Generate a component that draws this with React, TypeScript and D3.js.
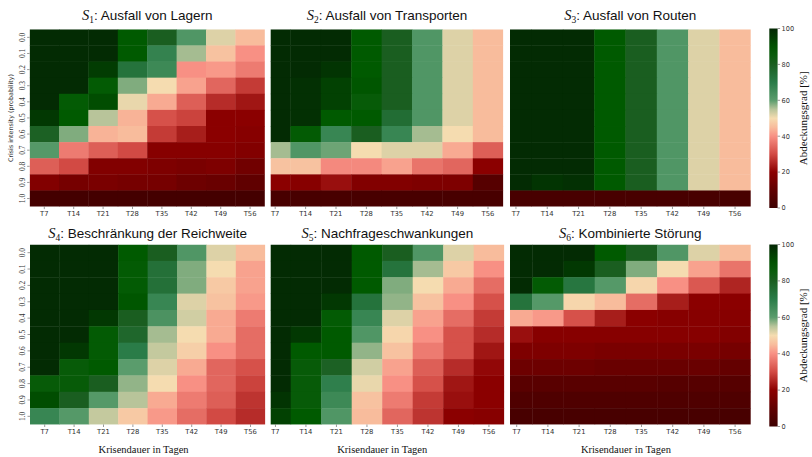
import React from "react";
import * as d3 from "d3";

// Krisendauer (x) und Krisenintensität (y)
const durations = ["T7", "T14", "T21", "T28", "T35", "T42", "T49", "T56"];
const intensities = ["0.0", "0.1", "0.2", "0.3", "0.4", "0.5", "0.6", "0.7", "0.8", "0.9", "1.0"];
const cbTicks = [0, 20, 40, 60, 80, 100];

// Abdeckungsgrad [%], Zeilen = Intensität 0.0 .. 1.0, Spalten = T7 .. T56
const s1 = [
  [99, 99, 99, 88, 80, 62, 52, 45],
  [99, 99, 99, 88, 68, 56, 46, 40],
  [99, 99, 95, 73, 66, 40, 41, 37],
  [99, 99, 87, 58, 50, 42, 34, 28],
  [99, 87, 91, 51, 43, 33, 26, 23],
  [96, 88, 55, 44, 31, 29, 20, 20],
  [79, 58, 44, 45, 28, 24, 20, 19],
  [61, 37, 33, 30, 19, 19, 19, 18],
  [33, 30, 18, 18, 17, 16, 17, 14],
  [18, 15, 16, 15, 15, 13, 12, 10],
  [2, 2, 2, 2, 2, 2, 2, 2],
];
const s2 = [
  [99, 99, 99, 88, 80, 62, 52, 45],
  [99, 99, 99, 88, 80, 62, 52, 45],
  [99, 99, 97, 88, 80, 62, 52, 45],
  [99, 98, 94, 89, 80, 62, 52, 45],
  [99, 98, 94, 86, 80, 62, 52, 45],
  [99, 98, 88, 88, 75, 62, 52, 45],
  [99, 87, 67, 80, 67, 56, 50, 45],
  [56, 62, 59, 50, 52, 52, 43, 33],
  [46, 46, 39, 39, 42, 36, 34, 20],
  [20, 19, 22, 18, 18, 17, 17, 7],
  [3, 3, 3, 3, 3, 3, 3, 3],
];
const s3 = [
  [99, 99, 99, 88, 80, 62, 52, 45],
  [99, 99, 99, 88, 80, 62, 52, 45],
  [99, 99, 99, 88, 80, 62, 52, 45],
  [99, 99, 99, 88, 80, 62, 52, 45],
  [99, 99, 99, 88, 80, 62, 52, 45],
  [99, 99, 99, 88, 80, 62, 52, 45],
  [99, 99, 99, 88, 80, 62, 52, 45],
  [99, 99, 99, 88, 80, 62, 52, 45],
  [99, 99, 99, 88, 80, 62, 52, 45],
  [99, 97, 98, 88, 80, 62, 52, 45],
  [3, 3, 3, 3, 3, 3, 3, 3],
];
const s4 = [
  [99, 99, 99, 88, 80, 62, 52, 45],
  [99, 99, 99, 87, 74, 58, 50, 42],
  [99, 99, 99, 87, 74, 58, 47, 42],
  [99, 99, 99, 89, 67, 52, 46, 41],
  [99, 99, 96, 80, 63, 53, 43, 37],
  [99, 99, 87, 77, 56, 50, 43, 35],
  [99, 96, 87, 70, 54, 48, 40, 35],
  [99, 86, 88, 60, 52, 43, 34, 31],
  [86, 86, 80, 57, 50, 40, 34, 29],
  [91, 80, 61, 55, 43, 37, 33, 27],
  [67, 61, 54, 47, 41, 35, 30, 26],
];
const s5 = [
  [99, 99, 99, 88, 80, 62, 52, 45],
  [99, 99, 99, 88, 73, 56, 47, 40],
  [99, 99, 99, 88, 58, 50, 43, 35],
  [99, 99, 96, 73, 57, 46, 40, 31],
  [99, 99, 87, 67, 52, 42, 35, 28],
  [99, 96, 88, 62, 49, 40, 31, 26],
  [99, 88, 88, 57, 46, 37, 31, 23],
  [99, 86, 79, 53, 42, 33, 26, 21],
  [99, 86, 69, 51, 40, 31, 23, 20],
  [97, 86, 66, 46, 37, 28, 22, 20],
  [94, 88, 62, 45, 34, 27, 20, 19],
];
const s6 = [
  [99, 99, 99, 88, 80, 62, 52, 45],
  [99, 99, 96, 80, 58, 50, 42, 36],
  [99, 87, 72, 61, 49, 40, 32, 25],
  [73, 61, 49, 45, 35, 24, 20, 20],
  [43, 41, 31, 24, 20, 19, 19, 19],
  [22, 19, 19, 19, 19, 19, 19, 18],
  [17, 17, 17, 16, 16, 16, 16, 15],
  [13, 13, 13, 12, 12, 12, 12, 11],
  [8, 8, 8, 8, 8, 7, 7, 7],
  [5, 5, 5, 5, 5, 5, 5, 5],
  [3, 3, 3, 3, 3, 3, 3, 3],
];

const titles = ["Ausfall von Lagern", "Ausfall von Transporten", "Ausfall von Routen",
  "Beschränkung der Reichweite", "Nachfrageschwankungen", "Kombinierte Störung"];
const matrices = [s1, s2, s3, s4, s5, s6];

// rot -> weizen -> grün
const color = d3.scaleLinear<string>()
  .domain([0, 10, 20, 30, 40, 45, 50, 55, 60, 70, 80, 88, 100])
  .range(["#3d0000", "#600000", "#8b0000", "#d24a44", "#f89084", "#f8bc9c", "#f5dcb0",
    "#b8c49a", "#5a9c6c", "#2a7c48", "#1a5e20", "#005a00", "#032703"])
  .interpolate(d3.interpolateRgb)
  .clamp(true);

// layout of each axes: start of first column, column width, visible left edge
const panels = [
  { x0: 29.6, cw: 29.4, clip: 29.6, y0: 29.3, y1: 206.6 },
  { x0: 260.0, cw: 30.4, clip: 270.7, y0: 29.3, y1: 206.6 },
  { x0: 500.3, cw: 31.3, clip: 510, y0: 29.3, y1: 206.6 },
  { x0: 30.0, cw: 29.4, clip: 30.0, y0: 244.5, y1: 424.5 },
  { x0: 260.2, cw: 30.5, clip: 270.7, y0: 244.5, y1: 424.5 },
  { x0: 501.1, cw: 31.2, clip: 510, y0: 244.5, y1: 424.5 },
];

const sans = "'Liberation Sans', Arial, sans-serif";
const dejavu = "'DejaVu Sans', sans-serif";
const serif = "'Liberation Serif', 'Times New Roman', serif";

function Heatmap({ i }: { i: number }) {
  const p = panels[i];
  const data = matrices[i];
  const x = d3.scaleBand().domain(durations).range([p.x0, p.x0 + p.cw * 8]);
  const y = d3.scaleBand().domain(intensities).range([p.y0, p.y1]);
  const right = p.x0 + p.cw * 8;
  const cx = (p.clip + right) / 2;
  const bottomRow = i >= 3;
  return (
    <g>
      <defs>
        <clipPath id={"clip" + i}>
          <rect x={p.clip} y={p.y0} width={right - p.clip} height={p.y1 - p.y0} />
        </clipPath>
      </defs>
      <g clipPath={`url(#clip${i})`}>
        {data.map((row, r) =>
          row.map((v, c) => (
            <rect key={r + "-" + c} x={x(durations[c])} y={y(intensities[r])}
              width={x.bandwidth() + 0.4} height={y.bandwidth() + 0.4} fill={color(v)} />
          ))
        )}
      </g>
      <text x={cx} y={bottomRow ? p.y0 - 7 : p.y0 - 9} textAnchor="middle" fontFamily={sans} fontSize={13.5} fill="#111">
        <tspan fontFamily={serif} fontStyle="italic" fontSize={14.5}>S</tspan>
        <tspan fontFamily={serif} fontSize={9.5} dy={3}>{i + 1}</tspan>
        <tspan dy={-3}>: {titles[i]}</tspan>
      </text>
      {durations.map(d => (
        <g key={d}>
          <line x1={x(d)! + x.bandwidth() / 2} x2={x(d)! + x.bandwidth() / 2} y1={p.y1} y2={p.y1 + 2.5} stroke="#555" strokeWidth={0.6} />
          <text x={x(d)! + x.bandwidth() / 2} y={p.y1 + 9.5} textAnchor="middle" fontFamily={dejavu} fontSize={6.8} fill="#333">{d}</text>
        </g>
      ))}
      {(i === 0 || i === 3) && intensities.map(t => {
        const yy = y(t)! + y.bandwidth() / 2;
        return (
          <g key={t}>
            <line x1={p.x0 - 2.5} x2={p.x0} y1={yy} y2={yy} stroke="#555" strokeWidth={0.6} />
            <text transform={`translate(${p.x0 - 5},${yy}) rotate(-90)`} textAnchor="middle"
              fontFamily={serif} fontSize={7.4} fill="#333">{t}</text>
          </g>
        );
      })}
      {bottomRow && (
        <text x={(p.x0 + right) / 2 + (i === 3 ? -4 : 0)} y={452.5} textAnchor="middle" fontFamily={serif} fontSize={10.5} fill="#111">
          Krisendauer in Tagen
        </text>
      )}
    </g>
  );
}

function Colorbar({ y0, y1, id }: { y0: number; y1: number; id: string }) {
  const x0 = 769.3;
  const w = 8.3;
  const s = d3.scaleLinear().domain([0, 100]).range([y1, y0]);
  const stops = d3.range(0, 101, 5);
  return (
    <g>
      <defs>
        <linearGradient id={id} x1="0" y1="1" x2="0" y2="0">
          {stops.map(v => <stop key={v} offset={v / 100} stopColor={color(v)} />)}
        </linearGradient>
      </defs>
      <rect x={x0} y={y0} width={w} height={y1 - y0} fill={`url(#${id})`} />
      {cbTicks.map(t => (
        <g key={t}>
          <line x1={x0 + w} x2={x0 + w + 2.5} y1={s(t)} y2={s(t)} stroke="#555" strokeWidth={0.6} />
          <text x={x0 + w + 4} y={s(t) + 2.3} fontFamily={dejavu} fontSize={6.6} fill="#333">{t}</text>
        </g>
      ))}
      <text transform={`translate(${806.5},${(y0 + y1) / 2}) rotate(-90)`} textAnchor="middle"
        fontFamily={serif} fontSize={11} fill="#111">Abdeckungsgrad [%]</text>
    </g>
  );
}

export default function App() {
  return (
    <svg width={812} height={457} style={{ position: "absolute", left: 0, top: 0, background: "#fff" }}>
      <rect width={812} height={457} fill="#fff" />
      {panels.map((_, i) => <Heatmap key={i} i={i} />)}
      <Colorbar y0={28.5} y1={208} id="cb1" />
      <Colorbar y0={244.5} y1={426.5} id="cb2" />
      <text transform="translate(12.7,118) rotate(-90)" textAnchor="middle" fontFamily={dejavu} fontSize={6.4} fill="#333">
        Crisis intensity (probability)
      </text>
    </svg>
  );
}
